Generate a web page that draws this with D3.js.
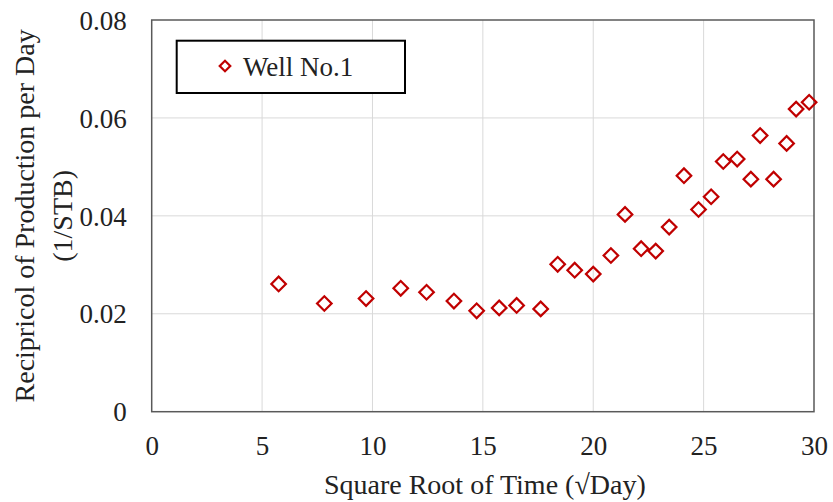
<!DOCTYPE html>
<html>
<head>
<meta charset="utf-8">
<script src="https://cdn.jsdelivr.net/npm/d3@7"></script>
<style>
  html, body { margin: 0; padding: 0; background: #fff; }
  svg { display: block; }
</style>
</head>
<body>
<script>
// Square root of time (√day) for each measurement
const sqrtTime = [5.75, 7.82, 9.71, 11.28, 12.45, 13.69, 14.72, 15.74, 16.53, 17.62,
                  18.39, 19.16, 20.0, 20.80, 21.44, 22.17, 22.83, 23.44, 24.11, 24.77,
                  25.34, 25.89, 26.52, 27.14, 27.56, 28.17, 28.76, 29.19, 29.78];
// Reciprocal of daily production (1/STB)
const reciprocal = [0.0261, 0.0221, 0.0231, 0.0252, 0.0244, 0.0226, 0.0206, 0.0212, 0.0217, 0.0210,
                    0.0301, 0.0289, 0.0281, 0.0319, 0.0403, 0.0333, 0.0328, 0.0377, 0.0482, 0.0413,
                    0.0439, 0.0511, 0.0516, 0.0475, 0.0564, 0.0475, 0.0548, 0.0618, 0.0632];
const xTicks = [0, 5, 10, 15, 20, 25, 30];
const yTicks = [0, 0.02, 0.04, 0.06, 0.08];
const seriesName = "Well No.1";

const FONT = "'Liberation Serif', 'Times New Roman', Times, 'DejaVu Serif', serif";
const W = 833, H = 502;
const margin = { top: 20, right: 19, bottom: 90.3, left: 151.7 };
const iw = W - margin.left - margin.right;
const ih = H - margin.top - margin.bottom;
const red = "#c00000";
const ink = "#222";

const svg = d3.select("body").append("svg").attr("width", W).attr("height", H)
  .attr("font-family", FONT);
const g = svg.append("g").attr("transform", `translate(${margin.left},${margin.top})`);

const x = d3.scaleLinear().domain([0, 30]).range([0, iw]);
const y = d3.scaleLinear().domain([0, 0.08]).range([ih, 0]);

// gridlines
g.append("g").selectAll("line").data(xTicks.slice(1, -1)).join("line")
  .attr("x1", d => x(d)).attr("x2", d => x(d)).attr("y1", 0).attr("y2", ih)
  .attr("stroke", "#d9d9d9").attr("stroke-width", 1);
g.append("g").selectAll("line").data(yTicks.slice(1, -1)).join("line")
  .attr("y1", d => y(d)).attr("y2", d => y(d)).attr("x1", 0).attr("x2", iw)
  .attr("stroke", "#d9d9d9").attr("stroke-width", 1);

// axes (labels only)
const xAxis = g.append("g").attr("transform", `translate(0,${ih})`)
  .call(d3.axisBottom(x).tickValues(xTicks).tickFormat(d3.format("d")).tickSize(0).tickPadding(24));
const yAxis = g.append("g")
  .call(d3.axisLeft(y).tickValues(yTicks).tickFormat(d => d === 0 ? "0" : d3.format(".2f")(d)).tickSize(0).tickPadding(25));
[xAxis, yAxis].forEach(a => {
  a.attr("font-family", FONT).attr("font-size", 27);
  a.select(".domain").remove();
  a.selectAll("text").attr("fill", ink);
});
yAxis.selectAll("text").attr("dy", "0.34em");

// plot frame
g.append("rect").attr("x", 0).attr("y", 0).attr("width", iw).attr("height", ih)
  .attr("fill", "none").attr("stroke", "#595959").attr("stroke-width", 1.5);

// markers
const diamond = d3.symbol().type(d3.symbolSquare).size(106);
g.append("g").selectAll("path").data(sqrtTime.map((t, i) => [t, reciprocal[i]])).join("path")
  .attr("d", diamond)
  .attr("transform", d => `translate(${x(d[0])},${y(d[1])}) rotate(45)`)
  .attr("fill", "none").attr("stroke", red).attr("stroke-width", 2.2);

// axis titles
svg.append("text").attr("x", margin.left + iw / 2 + 2).attr("y", 494)
  .attr("text-anchor", "middle").attr("font-size", 28).attr("fill", ink)
  .text("Square Root of Time (√Day)");
const cy = margin.top + ih / 2;
svg.append("text").attr("transform", `translate(34,${cy}) rotate(-90)`)
  .attr("text-anchor", "middle").attr("font-size", 28).attr("fill", ink)
  .text("Recipricol of Production per Day");
svg.append("text").attr("transform", `translate(72,${cy}) rotate(-90)`)
  .attr("text-anchor", "middle").attr("font-size", 28).attr("fill", ink)
  .text("(1/STB)");

// legend
const lg = svg.append("g");
lg.append("rect").attr("x", 176.7).attr("y", 40.7).attr("width", 228.3).attr("height", 52.3)
  .attr("fill", "#fff").attr("stroke", "#000").attr("stroke-width", 2);
lg.append("path").attr("d", d3.symbol().type(d3.symbolSquare).size(56))
  .attr("transform", "translate(225,66) rotate(45)")
  .attr("fill", "none").attr("stroke", red).attr("stroke-width", 2.2);
lg.append("text").attr("x", 243).attr("y", 75.5).attr("font-size", 27).attr("fill", ink)
  .text(seriesName);
</script>
</body>
</html>
